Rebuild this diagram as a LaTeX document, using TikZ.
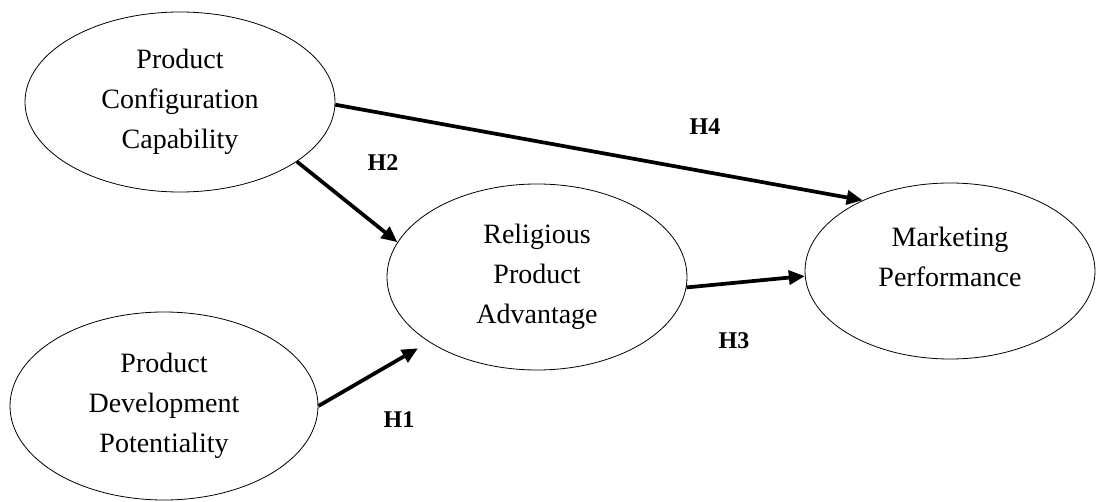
\documentclass[tikz,border=0pt]{standalone}
\usepackage{fontspec}
\setmainfont{Liberation Serif}
\usetikzlibrary{shapes.geometric,arrows.meta}
\tikzset{
  construct/.style={
    ellipse,
    draw,
    line width=0.6pt,
    inner sep=0pt,
    align=center,
    font=\fontsize{21}{30}\selectfont
  },
  path arrow/.style={
    line width=2.8pt,
    -{Triangle[length=12pt,width=10.5pt]}
  },
  hyp label/.style={
    font=\fontsize{18}{21}\selectfont\bfseries
  },
}

\begin{document}
\begin{tikzpicture}[x=0.75pt,y=-0.75pt]
  \useasboundingbox (0,0) rectangle (1096,502);
  \node[construct,minimum width=232.5pt,minimum height=135pt] (pcc) at (180,102) {Product\\Configuration\\Capability};
  \node[construct,minimum width=231pt,minimum height=141pt] (pdp) at (164,406) {Product\\Development\\Potentiality};
  \node[construct,minimum width=225pt,minimum height=139.5pt] (rpa) at (537,277) {Religious\\Product\\Advantage};
  \node[construct,minimum width=217.5pt,minimum height=132pt] (mp) at (950,271) {Marketing\\Performance\\[-9pt]\mbox{}};
  \draw[path arrow] (pcc.-1) -- (mp.141);
  \draw[path arrow] (pcc.-27) -- (rpa.166);
  \draw[path arrow,shorten >=9.5pt] (pdp.east) -- (rpa.211);
  \draw[path arrow] (rpa.-4) -- (mp.182);
  \node[hyp label] (h1) at (399,420) {H1};
  \node[hyp label] (h2) at (383,163) {H2};
  \node[hyp label] (h3) at (734,341) {H3};
  \node[hyp label] (h4) at (705,127) {H4};
\end{tikzpicture}
\end{document}
